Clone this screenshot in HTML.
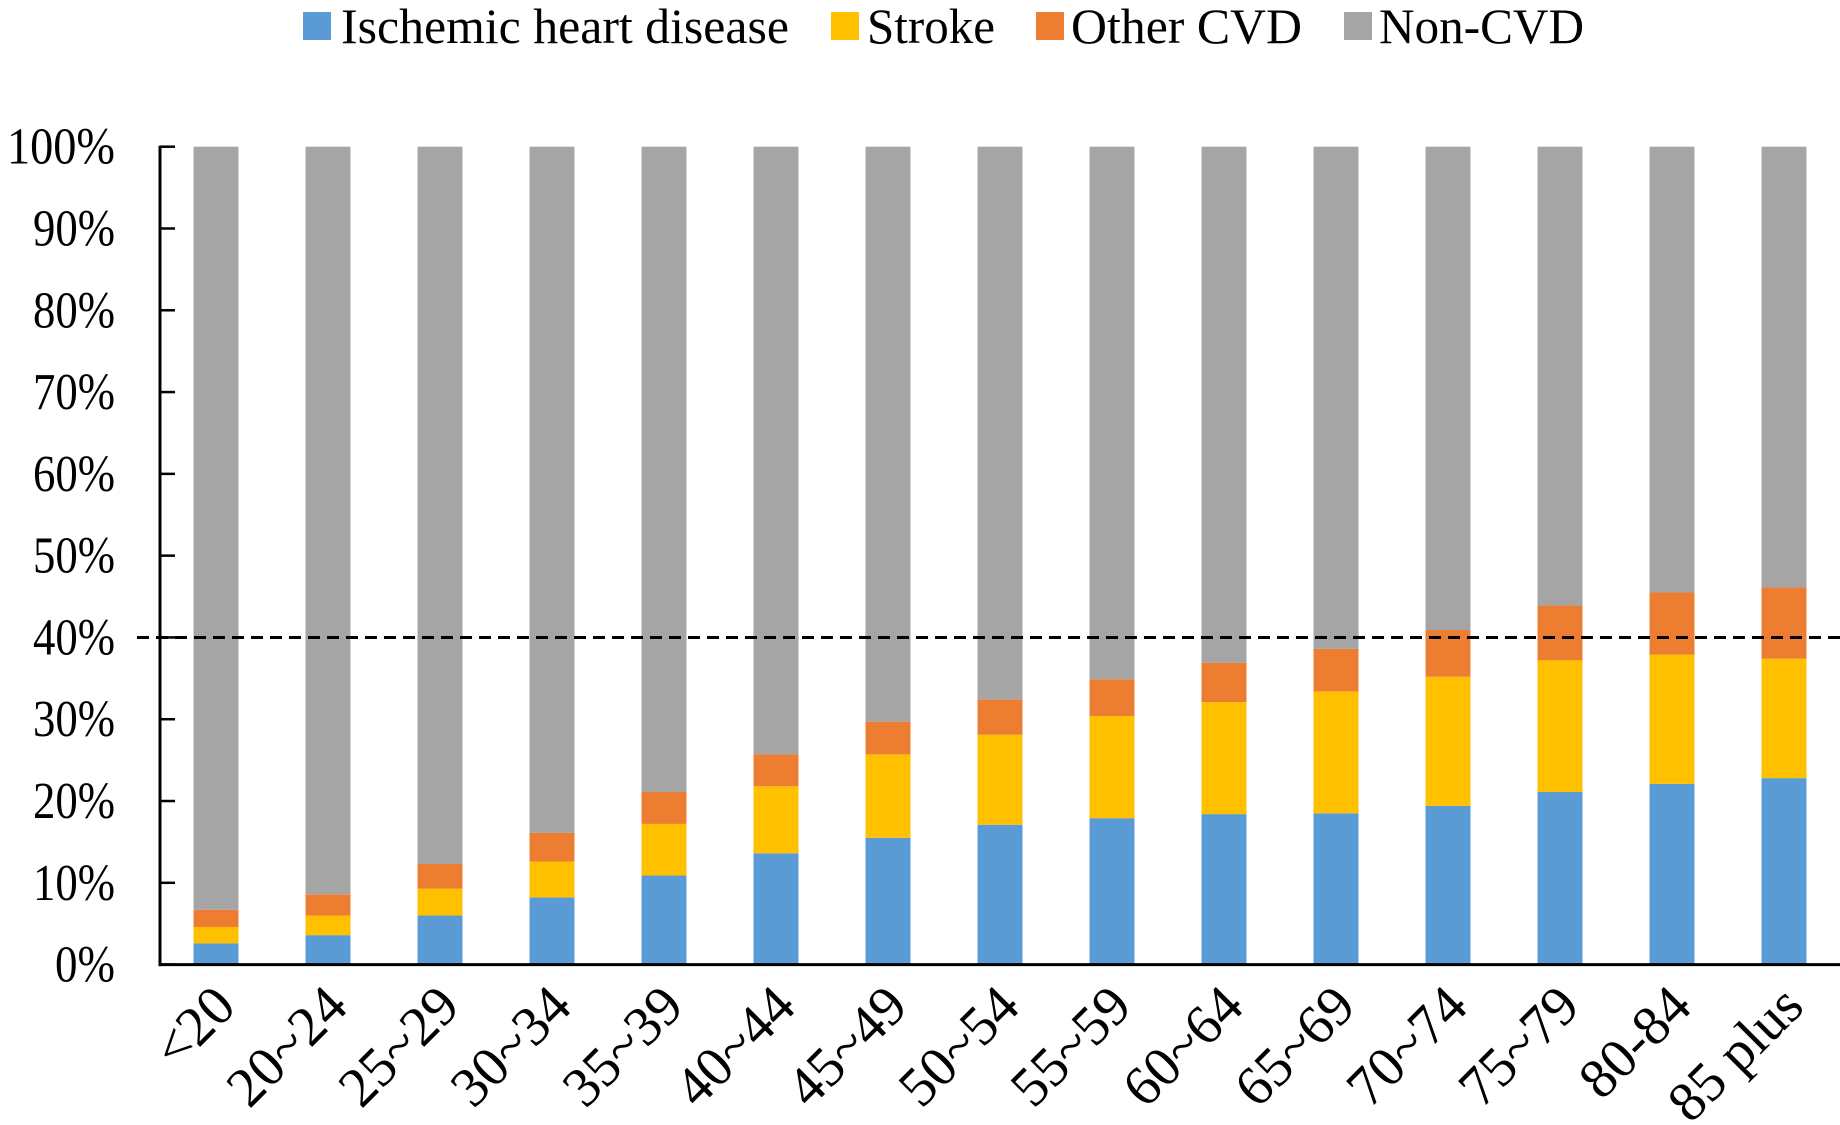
<!DOCTYPE html>
<html><head><meta charset="utf-8"><style>
html,body{margin:0;padding:0;background:#fff;}
svg{display:block;font-family:"Liberation Serif",serif;}
</style></head><body>
<svg id="chart" width="1840" height="1125" viewBox="0 0 1840 1125" xmlns="http://www.w3.org/2000/svg">
<g id="legend">
  <g><rect x="303" y="12" width="28" height="28" fill="#5b9bd5"/><text x="341" y="43" font-size="50" textLength="448" lengthAdjust="spacingAndGlyphs">Ischemic heart disease</text></g>
  <g><rect x="831" y="12" width="28" height="28" fill="#ffc000"/><text x="867" y="43" font-size="50" textLength="128" lengthAdjust="spacingAndGlyphs">Stroke</text></g>
  <g><rect x="1036" y="12" width="28" height="28" fill="#ed7d31"/><text x="1071" y="43" font-size="50" textLength="231" lengthAdjust="spacingAndGlyphs">Other CVD</text></g>
  <g><rect x="1344" y="12" width="28" height="28" fill="#a5a5a5"/><text x="1379" y="43" font-size="50" textLength="205" lengthAdjust="spacingAndGlyphs">Non-CVD</text></g>
</g>
<g id="bars"></g>
<g id="axes"></g>
</svg>
<script>
const categories = ["<20","20~24","25~29","30~34","35~39","40~44","45~49","50~54","55~59","60~64","65~69","70~74","75~79","80-84","85 plus"];
const ischemic = [2.6,3.6,6.0,8.2,10.9,13.6,15.5,17.1,17.9,18.4,18.5,19.4,21.1,22.1,22.8];
const stroke = [2.0,2.4,3.3,4.4,6.3,8.2,10.2,11.0,12.5,13.7,14.9,15.8,16.1,15.8,14.6];
const otherCvd = [2.1,2.6,3.0,3.5,3.9,3.9,4.0,4.3,4.5,4.8,5.2,5.7,6.7,7.6,8.7];
const yTicks = [0,10,20,30,40,50,60,70,80,90,100];
const refLine = 40;

const NS = "http://www.w3.org/2000/svg";
const x0 = 160, x1 = 1840, y0 = 964.6, y1 = 146.7;
const band = (x1 - x0) / categories.length;
const barW = 45;
function yScale(v){ return y0 - (y0 - y1) * v / 100; }
function xCenter(i){ return x0 + band * (i + 0.5); }
function mk(tag, attrs, parent){ const e = document.createElementNS(NS, tag); for (const k in attrs) e.setAttribute(k, attrs[k]); parent.appendChild(e); return e; }

const bars = document.getElementById('bars');
const axes = document.getElementById('axes');
const colors = ["#5b9bd5","#ffc000","#ed7d31","#a5a5a5"];
const names = ["ischemic","stroke","other-cvd","non-cvd"];
categories.forEach((c, i) => {
  const nonCvd = 100 - ischemic[i] - stroke[i] - otherCvd[i];
  const vals = [ischemic[i], stroke[i], otherCvd[i], nonCvd];
  let cum = 0;
  vals.forEach((v, s) => {
    const r = mk('rect', {x: xCenter(i) - barW/2, y: yScale(cum + v), width: barW, height: yScale(cum) - yScale(cum + v), fill: colors[s]}, bars);
    
    
    cum += v;
  });
  const t = mk('text', {x: 0, y: 0, 'font-size': 56, 'text-anchor': 'end', transform: `translate(${xCenter(i) + 22},${1009}) rotate(-45)`}, axes);
  t.textContent = c;
  
  
});
yTicks.forEach(v => {
  const tk = mk('line', {x1: x0, x2: x0 + 15, y1: yScale(v), y2: yScale(v), stroke: '#000', 'stroke-width': 2.5}, axes);
  
  
  const t = mk('text', {x: 115, y: yScale(v) + 17, 'font-size': 52, 'text-anchor': 'end', textLength: v === 100 ? 108 : (v === 0 ? 60 : 82), lengthAdjust: 'spacingAndGlyphs'}, axes);
  t.textContent = v + '%';
  
  
});
const ya = mk('line', {x1: x0, x2: x0, y1: y1 - 1, y2: y0 + 1.5, stroke: '#000', 'stroke-width': 3}, axes);


const xa = mk('line', {x1: x0 - 1.5, x2: x1, y1: y0, y2: y0, stroke: '#000', 'stroke-width': 3}, axes);


const rl = mk('line', {x1: 137, x2: 1840, y1: yScale(refLine), y2: yScale(refLine), stroke: '#000', 'stroke-width': 3, 'stroke-dasharray': '12,7'}, axes);


</script>
</body></html>
